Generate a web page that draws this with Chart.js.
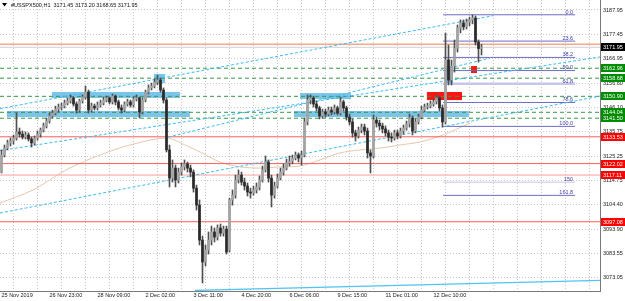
<!DOCTYPE html>
<html>
<head>
<meta charset="utf-8">
<script src="https://cdn.jsdelivr.net/npm/chart.js@4.4.1/dist/chart.umd.min.js"></script>
<style>
  html, body { margin: 0; padding: 0; background: #fff; }
  canvas { display: block; }
</style>
</head>
<body>
<canvas id="chart" width="625" height="301"></canvas>
<script>
// OHLC of #USSPX500 (one bar per slot)
const opens = [
  3118.4, 3125.7, 3128.7, 3130.9, 3131.7, 3133.0, 3135.6, 3134.7, 3133.4, 3134.3,
  3132.6, 3130.9, 3133.0, 3134.7, 3136.4, 3138.2, 3140.3, 3142.5, 3143.7, 3145.4,
  3146.3, 3146.7, 3148.0, 3148.9, 3150.2, 3147.6, 3145.0, 3148.9, 3150.6, 3152.7,
  3145.0, 3146.7, 3145.9, 3147.2, 3148.0, 3149.3, 3150.2, 3148.5, 3151.0, 3148.5,
  3145.9, 3145.0, 3147.6, 3148.5, 3147.2, 3149.7, 3150.2, 3144.2, 3149.3, 3152.7,
  3154.5, 3155.3, 3157.0, 3157.9, 3153.6, 3149.3, 3127.9, 3115.8, 3120.1, 3115.0,
  3118.4, 3120.6, 3121.9, 3120.1, 3118.4, 3111.5, 3104.2, 3089.2, 3079.8, 3084.9,
  3089.2, 3092.7, 3090.5, 3094.4, 3092.2, 3093.9, 3084.9, 3106.4, 3108.5, 3115.0,
  3117.1, 3114.1, 3112.4, 3109.8, 3109.4, 3110.7, 3112.0, 3115.0, 3119.3, 3122.7,
  3115.8, 3108.5, 3112.4, 3115.8, 3118.4, 3120.1, 3122.3, 3123.1, 3124.4, 3125.7,
  3124.4, 3125.7, 3139.9, 3149.3, 3150.2, 3147.6, 3145.9, 3142.5, 3144.2, 3143.3,
  3145.0, 3144.2, 3145.9, 3143.7, 3148.5, 3145.9, 3142.0, 3139.9, 3135.2, 3133.9,
  3136.4, 3137.7, 3136.0, 3126.6, 3125.3, 3140.7, 3139.4, 3138.2, 3136.9, 3135.2,
  3133.4, 3133.0, 3135.2, 3133.9, 3136.0, 3137.3, 3139.0, 3141.6, 3136.0, 3139.9,
  3142.0, 3145.0, 3146.3, 3146.7, 3147.6, 3148.5, 3150.2, 3145.9, 3139.9, 3166.5,
  3157.9, 3163.9, 3171.6, 3180.2, 3182.4, 3180.7, 3182.8, 3183.7, 3184.5, 3174.2,
  3171.45
];
const highs = [
  3127.9, 3130.0, 3132.1, 3133.0, 3134.3, 3143.7, 3137.3, 3136.0, 3135.6, 3135.2,
  3133.4, 3133.9, 3136.0, 3137.3, 3139.4, 3141.6, 3143.7, 3145.0, 3146.7, 3147.6,
  3148.0, 3149.3, 3150.2, 3151.5, 3150.6, 3148.5, 3149.7, 3151.5, 3155.3, 3153.6,
  3148.0, 3147.6, 3148.5, 3149.3, 3150.6, 3151.0, 3150.6, 3151.9, 3151.5, 3149.3,
  3147.2, 3148.5, 3149.7, 3149.3, 3150.6, 3151.5, 3150.6, 3150.2, 3153.6, 3155.8,
  3156.6, 3158.3, 3160.0, 3158.8, 3154.5, 3150.2, 3130.0, 3123.6, 3121.4, 3120.1,
  3122.3, 3123.6, 3122.7, 3121.4, 3119.3, 3112.8, 3106.4, 3090.9, 3087.1, 3092.7,
  3095.2, 3094.4, 3095.7, 3096.1, 3095.2, 3095.2, 3107.2, 3110.7, 3117.1, 3119.3,
  3118.4, 3115.8, 3113.7, 3111.5, 3112.4, 3113.7, 3116.7, 3121.0, 3125.3, 3123.6,
  3117.1, 3114.1, 3117.6, 3120.1, 3121.9, 3124.0, 3125.3, 3125.7, 3127.0, 3126.6,
  3127.4, 3141.6, 3151.5, 3151.5, 3151.0, 3148.9, 3146.7, 3145.4, 3145.4, 3146.3,
  3146.3, 3147.2, 3146.7, 3150.6, 3149.3, 3146.7, 3143.3, 3141.2, 3136.4, 3137.7,
  3139.0, 3139.0, 3137.3, 3127.9, 3142.9, 3142.0, 3140.7, 3139.4, 3138.2, 3136.4,
  3135.2, 3136.4, 3136.4, 3137.3, 3138.6, 3140.3, 3143.3, 3142.5, 3141.2, 3143.3,
  3146.7, 3147.6, 3148.0, 3148.9, 3149.7, 3151.5, 3151.0, 3147.2, 3178.1, 3172.9,
  3166.5, 3175.1, 3181.5, 3183.7, 3183.7, 3184.1, 3184.9, 3185.8, 3185.4, 3175.1,
  3173.20
];
const lows = [
  3118.0, 3124.9, 3127.9, 3129.6, 3130.4, 3132.1, 3133.4, 3132.6, 3132.6, 3131.7,
  3129.1, 3130.0, 3132.1, 3133.4, 3135.6, 3137.3, 3139.4, 3141.6, 3142.9, 3144.2,
  3145.0, 3145.9, 3147.2, 3148.0, 3146.7, 3143.7, 3144.2, 3148.0, 3149.7, 3143.7,
  3144.2, 3145.0, 3145.0, 3146.3, 3147.2, 3148.5, 3147.6, 3147.6, 3147.2, 3145.0,
  3143.7, 3144.2, 3146.7, 3146.3, 3146.3, 3148.9, 3141.6, 3143.3, 3148.5, 3151.9,
  3153.6, 3154.5, 3155.8, 3152.7, 3148.0, 3127.0, 3112.0, 3114.1, 3112.0, 3113.7,
  3117.1, 3119.3, 3118.4, 3116.3, 3109.8, 3102.1, 3087.1, 3070.8, 3078.1, 3083.2,
  3087.1, 3088.4, 3089.2, 3090.9, 3090.9, 3083.2, 3084.1, 3104.2, 3107.2, 3113.7,
  3112.8, 3110.7, 3108.1, 3107.2, 3108.5, 3109.4, 3110.7, 3114.1, 3118.4, 3114.1,
  3103.4, 3107.2, 3111.5, 3115.0, 3117.1, 3119.3, 3121.0, 3121.9, 3123.6, 3122.7,
  3121.4, 3124.9, 3138.6, 3147.6, 3146.3, 3144.6, 3141.2, 3141.6, 3142.0, 3142.5,
  3142.9, 3143.3, 3142.9, 3142.9, 3144.6, 3140.7, 3138.6, 3133.4, 3131.7, 3133.0,
  3135.2, 3134.3, 3124.4, 3118.0, 3124.4, 3137.7, 3136.4, 3135.2, 3133.9, 3131.7,
  3131.3, 3132.1, 3132.6, 3133.0, 3134.7, 3136.4, 3137.7, 3134.3, 3135.2, 3139.0,
  3141.2, 3144.2, 3145.4, 3145.9, 3146.7, 3147.6, 3144.6, 3137.7, 3139.0, 3155.8,
  3155.8, 3161.3, 3169.9, 3178.1, 3179.4, 3179.8, 3181.1, 3182.0, 3172.9, 3165.6,
  3168.65
];
const closes = [
  3125.7, 3128.7, 3130.9, 3131.7, 3133.0, 3135.6, 3134.7, 3133.4, 3134.3, 3132.6,
  3130.9, 3133.0, 3134.7, 3136.4, 3138.2, 3140.3, 3142.5, 3143.7, 3145.4, 3146.3,
  3146.7, 3148.0, 3148.9, 3150.2, 3147.6, 3145.0, 3148.9, 3150.6, 3152.7, 3145.0,
  3146.7, 3145.9, 3147.2, 3148.0, 3149.3, 3150.2, 3148.5, 3151.0, 3148.5, 3145.9,
  3145.0, 3147.6, 3148.5, 3147.2, 3149.7, 3150.2, 3144.2, 3149.3, 3152.7, 3154.5,
  3155.3, 3157.0, 3157.9, 3153.6, 3149.3, 3127.9, 3115.8, 3120.1, 3115.0, 3118.4,
  3120.6, 3121.9, 3120.1, 3118.4, 3111.5, 3104.2, 3089.2, 3079.8, 3084.9, 3089.2,
  3092.7, 3090.5, 3094.4, 3092.2, 3093.9, 3084.1, 3106.4, 3108.5, 3115.0, 3117.1,
  3114.1, 3112.4, 3109.8, 3109.4, 3110.7, 3112.0, 3115.0, 3119.3, 3122.7, 3115.8,
  3108.5, 3112.4, 3115.8, 3118.4, 3120.1, 3122.3, 3123.1, 3124.4, 3125.7, 3124.4,
  3125.7, 3139.9, 3149.3, 3150.2, 3147.6, 3145.9, 3142.5, 3144.2, 3143.3, 3145.0,
  3144.2, 3145.9, 3143.7, 3148.5, 3145.9, 3142.0, 3139.9, 3135.2, 3133.9, 3136.4,
  3137.7, 3136.0, 3126.6, 3125.3, 3140.7, 3139.4, 3138.2, 3136.9, 3135.2, 3133.4,
  3133.0, 3135.2, 3133.9, 3136.0, 3137.3, 3139.0, 3141.6, 3136.0, 3139.9, 3142.0,
  3145.0, 3146.3, 3146.7, 3147.6, 3148.5, 3150.2, 3145.9, 3139.9, 3166.5, 3157.9,
  3163.9, 3171.6, 3180.2, 3182.4, 3180.7, 3182.8, 3183.7, 3184.5, 3174.2, 3171.4,
  3171.95
];

// moving average, sampled (bar index, price)
const maIdx = [-0.5, 10.5, 21.5, 32.8, 42.8, 55.2, 61.2, 66.2, 72.8, 79.5, 86.2,
  92.8, 99.5, 106.2, 112.8, 119.5, 126.2, 132.8, 139.5, 146.2, 151.2, 156.2];
const maVal = [3105.1, 3110.7, 3119.3, 3125.7, 3130.0, 3133.0, 3130.0, 3127.0, 3122.7,
  3120.6, 3120.1, 3120.6, 3121.0, 3123.6, 3126.6, 3127.9, 3128.7, 3130.0, 3131.3,
  3133.9, 3136.5, 3139.5];

// axis
const yTicks = [3073.05, 3083.55, 3093.90, 3104.40, 3114.75, 3125.25, 3135.75,
  3146.10, 3156.60, 3166.95, 3177.45, 3187.95];
const xTickIdx = [0, 16, 32, 48, 64, 80, 96, 112, 128, 144];
const xTickLabels = ['25 Nov 2019', '26 Nov 23:00', '28 Nov 09:00', '2 Dec 02:00',
  '3 Dec 11:00', '4 Dec 20:00', '6 Dec 06:00', '9 Dec 15:00', '11 Dec 01:00', '12 Dec 10:00'];

// horizontal levels
const greenLevels = [3162.96, 3158.68, 3150.90, 3144.04, 3141.50];
const redLevels = [3133.53, 3122.02, 3117.11, 3097.08];
const orangeLevel = 3173.3;
const bidPrice = 3171.95;

// fibonacci retracement
const fibLabels = ['0.0', '23.6', '38.2', '50.0', '61.8', '78.6', '100.0', '150', '161.8'];
const fibPrices = [3185.9, 3174.6, 3167.6, 3161.95, 3156.3, 3148.25, 3138.0, 3114.05, 3108.4];
const fibFrom = 147.2, fibTo = 191.2;

// trend channel lines [idx0, price0, idx1, price1]
const trendLines = [
  [-0.5, 3145.6, 163.8, 3185.5],
  [-0.5, 3127.6, 199.5, 3167.8],
  [-0.5, 3100.8, 199.5, 3151.0],
  [55.5, 3133.4, 162.8, 3167.3]
];
const baseLine = [64.5, 3067.6, 199.5, 3071.9];

// rectangles (bar index range, price range)
const zones = [
  { from: 16.8, to: 59.5, top: 3152.76, bottom: 3150.18, kind: 'blue' },
  { from: 1.8, to: 62.8, top: 3144.6, bottom: 3142.0, kind: 'blue' },
  { from: 50.8, to: 54.5, top: 3160.5, bottom: 3156.6, kind: 'blue' },
  { from: 99.5, to: 116.5, top: 3152.3, bottom: 3149.75, kind: 'blue' },
  { from: 97.5, to: 155.8, top: 3144.6, bottom: 3142.0, kind: 'blue' },
  { from: 147.8, to: 150.5, top: 3163.9, bottom: 3156.6, kind: 'blue' },
  { from: 141.8, to: 153.5, top: 3152.76, bottom: 3149.3, kind: 'red' },
  { from: 156.5, to: 158.5, top: 3163.9, bottom: 3160.9, kind: 'red' }
];

const FONT = '"Liberation Sans", Arial, sans-serif';
const XMIN = -0.5, XMAX = 199.5;

function seg(x0, y0, x1, y1, color, width, dash, order) {
  return {
    type: 'line',
    data: [{ x: x0, y: y0 }, { x: x1, y: y1 }],
    borderColor: color,
    borderWidth: width,
    borderDash: dash || [],
    pointRadius: 0,
    fill: false,
    order: order || 3
  };
}

let datasets = [];
datasets.push({
  type: 'bar',
  data: opens.map((o, i) => ({ x: i, y: [o, closes[i]] })),
  backgroundColor: opens.map((o, i) => closes[i] >= o ? '#a4a4a4' : '#2a2a2a'),
  barThickness: 2,
  minBarLength: 1,
  grouped: false,
  order: 0
});
datasets.push({
  type: 'bar',
  data: lows.map((l, i) => ({ x: i, y: [l, highs[i]] })),
  backgroundColor: '#505050',
  barThickness: 1,
  grouped: false,
  order: 1
});
datasets.push({
  type: 'line',
  data: maIdx.map((x, i) => ({ x: x, y: maVal[i] })),
  borderColor: '#e2c8ac',
  borderWidth: 1,
  pointRadius: 0,
  tension: 0.3,
  fill: false,
  order: 4
});
greenLevels.forEach(p => datasets.push(seg(XMIN, p, XMAX, p, '#3a9648', 1, [4, 3])));
redLevels.forEach(p => datasets.push(seg(XMIN, p, XMAX, p, p === 3117.11 ? '#ff9c9c' : '#ff5c5c', 1)));
datasets.push(seg(XMIN, orangeLevel, XMAX, orangeLevel, '#f6a886', 1.5));
datasets.push(seg(XMIN, bidPrice, XMAX, bidPrice, '#d0d0d0', 1));
fibPrices.forEach((p, i) => {
  const light = fibLabels[i] === '61.8' || fibLabels[i] === '150';
  datasets.push(seg(fibFrom, p, fibTo, p, light ? '#c6c6ec' : '#6c6cc4', fibLabels[i] === '61.8' ? 2.5 : 1));
});
trendLines.forEach(t => datasets.push(seg(t[0], t[1], t[2], t[3], '#3cbcf0', 1, [3, 2], 2)));
datasets.push(seg(baseLine[0], baseLine[1], baseLine[2], baseLine[3], '#52c4f2', 1.3, [], 2));

const overlay = {
  id: 'overlay',
  beforeDatasetsDraw(chart) {
    const { ctx, chartArea: a, scales: { x, y } } = chart;
    ctx.save();
    ctx.beginPath();
    ctx.rect(a.left, a.top, a.right - a.left, a.bottom - a.top);
    ctx.clip();
    zones.forEach(z => {
      const x0 = x.getPixelForValue(z.from), x1 = x.getPixelForValue(z.to);
      const y0 = y.getPixelForValue(z.top), y1 = y.getPixelForValue(z.bottom);
      ctx.fillStyle = z.kind === 'red' ? '#ff1414' : 'rgba(112,192,236,0.92)';
      ctx.fillRect(x0, y0, x1 - x0, y1 - y0);
    });
    ctx.restore();
  },
  afterDatasetsDraw(chart) {
    const { ctx, scales: { x, y } } = chart;
    ctx.save();
    ctx.font = '5.5px ' + FONT;
    ctx.fillStyle = '#3c3ca8';
    ctx.textAlign = 'right';
    ctx.textBaseline = 'bottom';
    const xr = x.getPixelForValue(fibTo) - 2;
    fibPrices.forEach((p, i) => ctx.fillText(fibLabels[i], xr, y.getPixelForValue(p)));
    ctx.restore();
  },
  afterDraw(chart) {
    const { ctx, scales: { y } } = chart;
    ctx.save();
    ctx.font = '5.5px ' + FONT;
    ctx.textBaseline = 'middle';
    ctx.textAlign = 'left';
    const tags = [{ p: bidPrice, bg: '#000000' }]
      .concat(greenLevels.map(p => ({ p: p, bg: '#008c00' })))
      .concat(redLevels.map(p => ({ p: p, bg: '#ff0000' })));
    tags.forEach(t => {
      const py = Math.round(y.getPixelForValue(t.p));
      ctx.fillStyle = t.bg;
      ctx.fillRect(601, py - 4, 24, 8);
      ctx.fillStyle = '#ffffff';
      ctx.fillText(t.p.toFixed(2), 603, py + 0.5);
    });
    // title
    ctx.fillStyle = '#000';
    ctx.beginPath();
    ctx.moveTo(2, 3); ctx.lineTo(7, 3); ctx.lineTo(4.5, 6.5); ctx.closePath();
    ctx.fill();
    ctx.fillStyle = '#111';
    ctx.fillText('#USSPX500,H1  3171.45 3173.20 3168.65 3171.95', 11, 5);
    ctx.restore();
  }
};

const gridIdx = [];
for (let i = 0; i <= 192; i += 8) gridIdx.push(i);

new Chart(document.getElementById('chart'), {
  type: 'bar',
  data: { datasets: datasets },
  options: {
    responsive: false,
    animation: false,
    devicePixelRatio: 1,
    layout: { padding: 0 },
    plugins: { legend: { display: false }, tooltip: { enabled: false } },
    scales: {
      x: {
        type: 'linear',
        min: XMIN,
        max: XMAX,
        offset: false,
        afterBuildTicks: s => { s.ticks = gridIdx.map(v => ({ value: v })); },
        afterFit: s => { s.height = 10; s.paddingLeft = 0; s.paddingRight = 0; },
        ticks: {
          autoSkip: false, maxRotation: 0, minRotation: 0, align: 'start', padding: 1,
          color: '#1a1a1a', font: { family: FONT, size: 5.5 },
          callback: v => { const k = xTickIdx.indexOf(v); return k >= 0 ? xTickLabels[k] : ''; }
        },
        grid: { color: '#c6c6c6', drawTicks: false },
        border: { display: true, color: '#7a7a7a', dash: [1, 2] }
      },
      y: {
        position: 'right',
        min: 3067.35,
        max: 3192.24,
        afterBuildTicks: s => { s.ticks = yTicks.map(v => ({ value: v })); },
        afterFit: s => { s.width = 25; s.paddingTop = 0; s.paddingBottom = 0; },
        ticks: {
          autoSkip: false, padding: 3, color: '#1a1a1a', font: { family: FONT, size: 5.5 },
          callback: v => v.toFixed(2)
        },
        grid: { color: '#c6c6c6', drawTicks: false },
        border: { display: true, color: '#7a7a7a', dash: [1, 2] }
      }
    }
  },
  plugins: [overlay]
});
</script>
</body>
</html>
